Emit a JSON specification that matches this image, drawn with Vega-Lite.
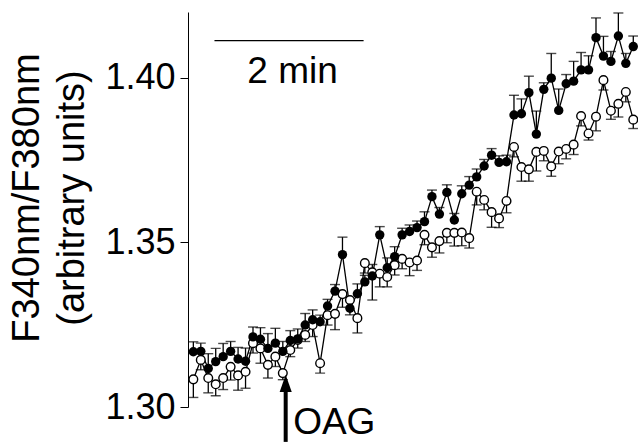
{
  "$schema": "https://vega.github.io/schema/vega-lite/v6.json",
  "width": 450,
  "height": 395,
  "autosize": {"type": "none"},
  "padding": {"left": 188, "top": 12, "right": 0, "bottom": 35},
  "background": "white",
  "config": {
    "view": {"stroke": null},
    "font": "Liberation Sans"
  },
  "datasets": {
    "ratio": [
      {"t":0,"series":"filled","v":1.3168,"err":0.003},{"t":6,"series":"filled","v":1.3169,"err":0.0025},{"t":12,"series":"filled","v":1.3117,"err":0.0045},{"t":18,"series":"filled","v":1.3138,"err":0.004},{"t":24,"series":"filled","v":1.3153,"err":0.004},{"t":30,"series":"filled","v":1.3169,"err":0.003},{"t":36,"series":"filled","v":1.3146,"err":0.0035},{"t":42,"series":"filled","v":1.3139,"err":0.004},{"t":48,"series":"filled","v":1.3213,"err":0.003},{"t":54,"series":"filled","v":1.3206,"err":0.0035},
      {"t":60,"series":"filled","v":1.3178,"err":0.0045},{"t":66,"series":"filled","v":1.3194,"err":0.0045},{"t":72,"series":"filled","v":1.3169,"err":0.003},{"t":78,"series":"filled","v":1.3202,"err":0.003},{"t":84,"series":"filled","v":1.3207,"err":0.003},{"t":90,"series":"filled","v":1.3249,"err":0.0035},{"t":96,"series":"filled","v":1.3265,"err":0.003},{"t":102,"series":"filled","v":1.3259,"err":0.002},{"t":108,"series":"filled","v":1.3307,"err":0.002},{"t":114,"series":"filled","v":1.3352,"err":0.002},
      {"t":120,"series":"filled","v":1.3463,"err":0.0053},{"t":126,"series":"filled","v":1.3300,"err":0.0025},{"t":132,"series":"filled","v":1.3344,"err":0.003},{"t":138,"series":"filled","v":1.3380,"err":0.002},{"t":144,"series":"filled","v":1.3398,"err":0.0035},{"t":150,"series":"filled","v":1.3523,"err":0.0025},{"t":156,"series":"filled","v":1.3423,"err":0.003},{"t":162,"series":"filled","v":1.3457,"err":0.003},{"t":168,"series":"filled","v":1.3523,"err":0.002},{"t":174,"series":"filled","v":1.3533,"err":0.002},
      {"t":180,"series":"filled","v":1.3545,"err":0.002},{"t":186,"series":"filled","v":1.3563,"err":0.003},{"t":192,"series":"filled","v":1.3639,"err":0.002},{"t":198,"series":"filled","v":1.3586,"err":0.002},{"t":204,"series":"filled","v":1.3652,"err":0.0023},{"t":210,"series":"filled","v":1.3568,"err":0.002},{"t":216,"series":"filled","v":1.3648,"err":0.0024},{"t":222,"series":"filled","v":1.3674,"err":0.0026},{"t":228,"series":"filled","v":1.3699,"err":0.0024},{"t":234,"series":"filled","v":1.3732,"err":0.002},
      {"t":240,"series":"filled","v":1.3765,"err":0.002},{"t":246,"series":"filled","v":1.3743,"err":0.002},{"t":252,"series":"filled","v":1.3745,"err":0.002},{"t":258,"series":"filled","v":1.3887,"err":0.006},{"t":264,"series":"filled","v":1.3891,"err":0.0045},{"t":270,"series":"filled","v":1.3955,"err":0.005},{"t":276,"series":"filled","v":1.3829,"err":0.007},{"t":282,"series":"filled","v":1.3965,"err":0.002},{"t":288,"series":"filled","v":1.3999,"err":0.0075},{"t":294,"series":"filled","v":1.3901,"err":0.0065},
      {"t":300,"series":"filled","v":1.3982,"err":0.0028},{"t":306,"series":"filled","v":1.3990,"err":0.006},{"t":312,"series":"filled","v":1.4024,"err":0.0053},{"t":318,"series":"filled","v":1.4024,"err":0.0043},{"t":324,"series":"filled","v":1.4122,"err":0.006},{"t":330,"series":"filled","v":1.4066,"err":0.006},{"t":336,"series":"filled","v":1.4050,"err":0.003},{"t":342,"series":"filled","v":1.4127,"err":0.007},{"t":348,"series":"filled","v":1.4044,"err":0.003},{"t":354,"series":"filled","v":1.4095,"err":0.0032},
      {"t":0,"series":"open","v":1.3084,"err":0.0055},{"t":6,"series":"open","v":1.3143,"err":0.003},{"t":12,"series":"open","v":1.3088,"err":0.0045},{"t":18,"series":"open","v":1.3069,"err":0.0035},{"t":24,"series":"open","v":1.3088,"err":0.0035},{"t":30,"series":"open","v":1.3122,"err":0.004},{"t":36,"series":"open","v":1.3096,"err":0.0045},{"t":42,"series":"open","v":1.3107,"err":0.005},{"t":48,"series":"open","v":1.3194,"err":0.003},{"t":54,"series":"open","v":1.3178,"err":0.0045},
      {"t":60,"series":"open","v":1.3128,"err":0.004},{"t":66,"series":"open","v":1.3153,"err":0.003},{"t":72,"series":"open","v":1.3103,"err":0.002},{"t":78,"series":"open","v":1.3173,"err":0.002},{"t":84,"series":"open","v":1.3204,"err":0.0025},{"t":90,"series":"open","v":1.3219,"err":0.002},{"t":96,"series":"open","v":1.3249,"err":0.0035},{"t":102,"series":"open","v":1.3133,"err":0.003},{"t":108,"series":"open","v":1.3279,"err":0.003},{"t":114,"series":"open","v":1.3283,"err":0.0048},
      {"t":120,"series":"open","v":1.3343,"err":0.004},{"t":126,"series":"open","v":1.3325,"err":0.0045},{"t":132,"series":"open","v":1.3270,"err":0.0045},{"t":138,"series":"open","v":1.3437,"err":0.003},{"t":144,"series":"open","v":1.3409,"err":0.0084},{"t":150,"series":"open","v":1.3405,"err":0.004},{"t":156,"series":"open","v":1.3395,"err":0.003},{"t":162,"series":"open","v":1.3431,"err":0.003},{"t":168,"series":"open","v":1.3450,"err":0.003},{"t":174,"series":"open","v":1.3439,"err":0.004},
      {"t":180,"series":"open","v":1.3445,"err":0.003},{"t":186,"series":"open","v":1.3523,"err":0.003},{"t":192,"series":"open","v":1.3485,"err":0.003},{"t":198,"series":"open","v":1.3504,"err":0.0036},{"t":204,"series":"open","v":1.3529,"err":0.003},{"t":210,"series":"open","v":1.3529,"err":0.004},{"t":216,"series":"open","v":1.3530,"err":0.004},{"t":222,"series":"open","v":1.3513,"err":0.003},{"t":228,"series":"open","v":1.3654,"err":0.004},{"t":234,"series":"open","v":1.3629,"err":0.003},
      {"t":240,"series":"open","v":1.3592,"err":0.0046},{"t":246,"series":"open","v":1.3573,"err":0.0028},{"t":252,"series":"open","v":1.3626,"err":0.0036},{"t":258,"series":"open","v":1.3790,"err":0.003},{"t":264,"series":"open","v":1.3729,"err":0.0043},{"t":270,"series":"open","v":1.3722,"err":0.0036},{"t":276,"series":"open","v":1.3775,"err":0.0058},{"t":282,"series":"open","v":1.3778,"err":0.003},{"t":288,"series":"open","v":1.3731,"err":0.003},{"t":294,"series":"open","v":1.3776,"err":0.0037},
      {"t":300,"series":"open","v":1.3784,"err":0.003},{"t":306,"series":"open","v":1.3797,"err":0.003},{"t":312,"series":"open","v":1.3884,"err":0.003},{"t":318,"series":"open","v":1.3831,"err":0.002},{"t":324,"series":"open","v":1.3882,"err":0.0043},{"t":330,"series":"open","v":1.3993,"err":0.003},{"t":336,"series":"open","v":1.3900,"err":0.0026},{"t":342,"series":"open","v":1.3921,"err":0.004},{"t":348,"series":"open","v":1.3957,"err":0.003},{"t":354,"series":"open","v":1.3873,"err":0.0027}
    ],
    "scalebar": [{"t":17,"t2":137,"v":1.4113,"label":"2 min","lt":79.8,"lv":1.3983}],
    "arrow": [{"t":74.3,"v":1.2894,"v2":1.3055,"head":1.3072,"label":"OAG","lt":80.3,"lv":1.2917}]
  },
  "layer": [
    {
      "data": {"name": "ratio"},
      "transform": [{"calculate": "datum.series == 'filled' ? datum.v + datum.err : datum.v - datum.err", "as": "end"}],
      "layer": [
        {
          "mark": {"type": "rule", "color": "black", "strokeWidth": 1.3},
          "encoding": {
            "x": {"field": "t", "type": "quantitative", "scale": {"domain": [-4.3, 357.8], "nice": false, "zero": false}, "axis": null},
            "y": {"field": "v", "type": "quantitative", "scale": {"domain": [1.30, 1.42], "nice": false, "zero": false},
              "axis": {
                "values": [1.30, 1.35, 1.40], "format": ".2f", "grid": false,
                "domainColor": "black", "domainWidth": 1, "tickColor": "black", "tickWidth": 1, "tickSize": 8,
                "labelFont": "Liberation Sans", "labelFontSize": 36, "labelColor": "black", "labelPadding": 5,
                "title": ["F340nm/F380nm", "(arbitrary units)"],
                "titleFont": "Liberation Sans", "titleFontSize": 38, "titleFontWeight": "normal", "titleColor": "black",
                "titleLineHeight": 45, "titleBaseline": "alphabetic", "titleAlign": "center", "titleAngle": -90,
                "titleX": -150, "titleY": 185.5
              }},
            "y2": {"field": "end"}
          }
        },
        {
          "mark": {"type": "tick", "orient": "horizontal", "color": "black", "size": 10, "thickness": 1.4},
          "encoding": {
            "x": {"field": "t", "type": "quantitative"},
            "y": {"field": "end", "type": "quantitative"}
          }
        },
        {
          "mark": {"type": "line", "color": "black", "strokeWidth": 1.3},
          "encoding": {
            "x": {"field": "t", "type": "quantitative"},
            "y": {"field": "v", "type": "quantitative"},
            "detail": {"field": "series"}
          }
        },
        {
          "transform": [{"filter": "datum.series == 'open'"}],
          "mark": {"type": "point", "shape": "circle", "filled": true, "fill": "white", "fillOpacity": 1, "stroke": "black", "strokeWidth": 1.4, "size": 75, "opacity": 1},
          "encoding": {
            "x": {"field": "t", "type": "quantitative"},
            "y": {"field": "v", "type": "quantitative"}
          }
        },
        {
          "transform": [{"filter": "datum.series == 'filled'"}],
          "mark": {"type": "circle", "color": "black", "size": 88, "opacity": 1},
          "encoding": {
            "x": {"field": "t", "type": "quantitative"},
            "y": {"field": "v", "type": "quantitative"}
          }
        }
      ]
    },
    {
      "data": {"name": "scalebar"},
      "layer": [
        {
          "mark": {"type": "rule", "color": "black", "strokeWidth": 1.3},
          "encoding": {
            "x": {"field": "t", "type": "quantitative"},
            "x2": {"field": "t2"},
            "y": {"field": "v", "type": "quantitative"}
          }
        },
        {
          "mark": {"type": "text", "font": "Liberation Sans", "fontSize": 37, "align": "center", "baseline": "alphabetic", "color": "black"},
          "encoding": {
            "x": {"field": "lt", "type": "quantitative"},
            "y": {"field": "lv", "type": "quantitative"},
            "text": {"field": "label"}
          }
        }
      ]
    },
    {
      "data": {"name": "arrow"},
      "layer": [
        {
          "mark": {"type": "rule", "color": "black", "strokeWidth": 4},
          "encoding": {
            "x": {"field": "t", "type": "quantitative"},
            "y": {"field": "v", "type": "quantitative"},
            "y2": {"field": "v2"}
          }
        },
        {
          "mark": {"type": "point", "shape": "M-0.7,1L0.7,1L0,-1Z", "filled": true, "color": "black", "size": 300, "opacity": 1},
          "encoding": {
            "x": {"field": "t", "type": "quantitative"},
            "y": {"field": "head", "type": "quantitative"}
          }
        },
        {
          "mark": {"type": "text", "font": "Liberation Sans", "fontSize": 37, "align": "left", "baseline": "alphabetic", "color": "black"},
          "encoding": {
            "x": {"field": "lt", "type": "quantitative"},
            "y": {"field": "lv", "type": "quantitative"},
            "text": {"field": "label"}
          }
        }
      ]
    }
  ]
}
